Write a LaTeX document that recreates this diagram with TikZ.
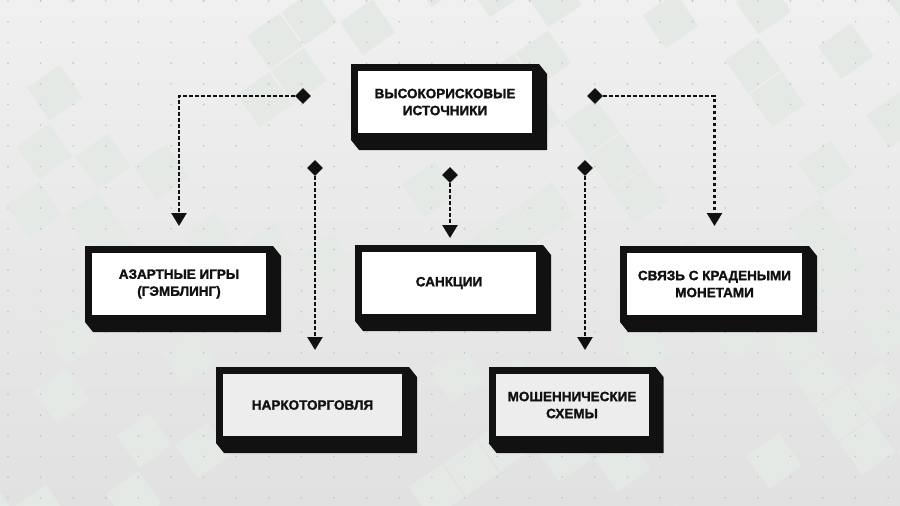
\documentclass[tikz,border=0pt]{standalone}
\usepackage{fontspec}
\setmainfont{Liberation Sans}[BoldFeatures={FakeBold=1.6}]
\usetikzlibrary{arrows.meta,shapes.geometric}
\definecolor{bgtop}{HTML}{F0F0F0}
\definecolor{bgbot}{HTML}{E1E1E1}
\definecolor{patch}{HTML}{E4E9E6}
\definecolor{dotcol}{HTML}{C2C2C2}
\definecolor{ink}{HTML}{111111}

\begin{document}
\begin{tikzpicture}[x=1pt, y=-1pt,
		card/.style={draw=ink, fill=white, line width=7pt, minimum width=181pt, minimum height=69pt,
			inner sep=0pt, align=center, text=ink, font=\bfseries\fontsize{13.5}{17}\selectfont},
		card2/.style={card, fill=white!93!black},
		knot/.style={diamond, fill=ink, minimum size=16pt, inner sep=0pt},
		link/.style={draw=ink, line width=2.5pt, dash pattern=on 3.5pt off 2.5pt,
			-{Triangle[width=15pt,length=13pt]}}]

	\useasboundingbox (0,0) rectangle (900,506);

	% ===== tło =====
	\shade[top color=bgtop, bottom color=bgbot] (0,0) rectangle (900,506);
	\begin{scope}
		\clip (0,0) rectangle (900,506);
		\pgfmathsetseed{11}
		\begin{scope}[rotate around={35:(450,253)}]
			\foreach \i in {-13,...,13}
				\foreach \j in {-13,...,13} {
					\pgfmathsetmacro{\r}{rnd}
					\ifdim\r pt<0.2pt
						\fill[patch] (450+\i*42,253+\j*42) rectangle +(40,40);
					\fi
				}
		\end{scope}
	\end{scope}
	\foreach \i in {0,...,27}
		\foreach \j in {0,...,24}
			\fill[dotcol] (8+\i*32.6,1+\j*20.7) circle (0.9);

	% ===== bloki =====
	\node[card] (src) at (445,102) {ВЫСОКОРИСКОВЫЕ\\ИСТОЧНИКИ};
	\node[card] (gamb) at (179,284) {АЗАРТНЫЕ ИГРЫ\\(ГЭМБЛИНГ)};
	\node[card] (sanc) at (449,283) {САНКЦИИ};
	\node[card, minimum width=182pt] (stol) at (714.5,284) {СВЯЗЬ С КРАДЕНЫМИ\\МОНЕТАМИ};
	\node[card2, minimum width=186pt] (narc) at (312.5,405) {НАРКОТОРГОВЛЯ};
	\node[card2, minimum width=160pt] (scam) at (572,405) {МОШЕННИЧЕСКИЕ\\СХЕМЫ};

	% ===== cień (bryła) =====
	\foreach \n in {src,gamb,sanc,stol,narc,scam}
		\fill[ink] (\n.north east) -- ++(8,10) -- ([shift={(8,10)}]\n.south east)
			-- ([shift={(8,10)}]\n.south west) -- (\n.south west) -- (\n.south east) -- cycle;

	% ===== romby =====
	\node[knot] (k1) at (303,96) {};
	\node[knot] (k2) at (315,168) {};
	\node[knot] (k3) at (450,175) {};
	\node[knot] (k4) at (595,96) {};
	\node[knot] (k5) at (585,168) {};

	% ===== strzałki =====
	\draw[link, shorten >=20pt] (k1) -| (gamb.north);
	\draw[link, shorten >=17pt] (k2) -- (k2 |- narc.north);
	\draw[link, shorten >=7pt] (k3) -- (k3 |- sanc.north);
	\draw[link, shorten >=20pt] (k4) -| (stol.north);
	\draw[link, shorten >=17pt] (k5) -- (k5 |- scam.north);
\end{tikzpicture}
\end{document}
